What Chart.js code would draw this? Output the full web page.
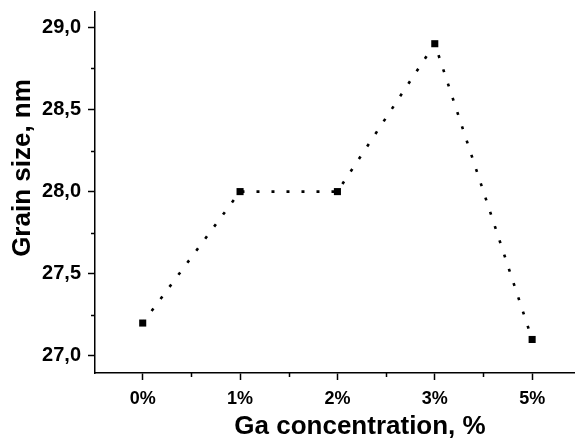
<!DOCTYPE html>
<html>
<head>
<meta charset="utf-8">
<script src="https://cdn.jsdelivr.net/npm/chart.js@4/dist/chart.umd.min.js"></script>
<style>
  html, body { margin: 0; padding: 0; background: #fff; }
  #wrap { width: 579px; height: 440px; }
</style>
</head>
<body>
<div id="wrap"><canvas id="c" width="579" height="440"></canvas></div>
<script>
// ---- data ----
const categories = ['0%', '1%', '2%', '3%', '5%'];
const grainSize = [27.2, 28.0, 28.0, 28.9, 27.1];
const yTickValues = [27.0, 27.5, 28.0, 28.5, 29.0];
const yMinorTickValues = [27.25, 27.75, 28.25, 28.75];
const xMinorTickValues = [0.5, 1.5, 2.5, 3.5];
const xTitle = 'Ga concentration, %';
const yTitle = 'Grain size, nm';

const FONT = "'Liberation Sans', Arial, sans-serif";

const points = grainSize.map((v, i) => ({ x: i, y: v }));

// minor ticks and axis titles
const extras = {
  id: 'extras',
  afterDraw(chart) {
    const ctx = chart.ctx;
    const xs = chart.scales.x, ys = chart.scales.y;
    ctx.save();
    ctx.strokeStyle = '#000';
    ctx.lineWidth = 1.5;
    ctx.beginPath();
    yMinorTickValues.forEach(v => {
      const p = Math.round(ys.getPixelForValue(v)) + 0.5;
      ctx.moveTo(xs.left - 4, p);
      ctx.lineTo(xs.left, p);
    });
    xMinorTickValues.forEach(v => {
      const p = Math.round(xs.getPixelForValue(v)) + 0.5;
      ctx.moveTo(p, ys.bottom);
      ctx.lineTo(p, ys.bottom + 4);
    });
    ctx.stroke();

    ctx.fillStyle = '#000';
    ctx.textAlign = 'center';
    ctx.textBaseline = 'middle';
    // x title
    ctx.font = 'bold 26px ' + FONT;
    ctx.fillText(xTitle, 360, 427);
    // y title
    ctx.font = 'bold 26px ' + FONT;
    ctx.translate(23, 168);
    ctx.rotate(-Math.PI / 2);
    ctx.fillText(yTitle, 0, 0);
    ctx.restore();
  }
};

new Chart(document.getElementById('c'), {
  type: 'line',
  data: {
    datasets: [{
      data: points,
      borderColor: '#000',
      backgroundColor: '#000',
      borderWidth: 2.6,
      borderDash: [3, 12],
      pointStyle: 'rect',
      pointRadius: 5,
      pointHoverRadius: 5,
      pointBorderWidth: 0,
      fill: false,
      tension: 0
    }]
  },
  options: {
    responsive: false,
    animation: false,
    devicePixelRatio: 1,
    layout: { padding: { top: 12, right: 0, bottom: 0, left: 0 } },
    plugins: { legend: { display: false }, tooltip: { enabled: false } },
    scales: {
      x: {
        type: 'linear',
        min: -0.49,
        max: 4.43,
        afterBuildTicks(scale) {
          scale.ticks = categories.map((c, i) => ({ value: i }));
        },
        afterFit(scale) {
          scale.height = 67;
          scale.paddingLeft = 0; scale.paddingRight = 0;
        },
        ticks: {
          color: '#000',
          font: { family: FONT, size: 18, weight: 'bold' },
          padding: 8,
          maxRotation: 0,
          callback: (v) => categories[v] !== undefined ? categories[v] : ''
        },
        grid: {
          drawOnChartArea: false,
          drawTicks: true,
          tickLength: 7,
          tickColor: '#000',
          tickWidth: 1.5
        },
        border: { display: true, color: '#000', width: 1.5 },
        title: { display: false, text: xTitle }
      },
      y: {
        type: 'linear',
        min: 26.896,
        max: 29.093,
        afterBuildTicks(scale) {
          scale.ticks = yTickValues.map(v => ({ value: v }));
        },
        afterFit(scale) {
          scale.width = 95;
          scale.paddingTop = 0; scale.paddingBottom = 0;
        },
        ticks: {
          color: '#000',
          font: { family: FONT, size: 20, weight: 'bold' },
          padding: 7,
          callback: (v) => Number(v).toFixed(1).replace('.', ',')
        },
        grid: {
          drawOnChartArea: false,
          drawTicks: true,
          tickLength: 7,
          tickColor: '#000',
          tickWidth: 1.5
        },
        border: { display: true, color: '#000', width: 1.5 },
        title: { display: false, text: yTitle }
      }
    }
  },
  plugins: [extras]
});
</script>
</body>
</html>
